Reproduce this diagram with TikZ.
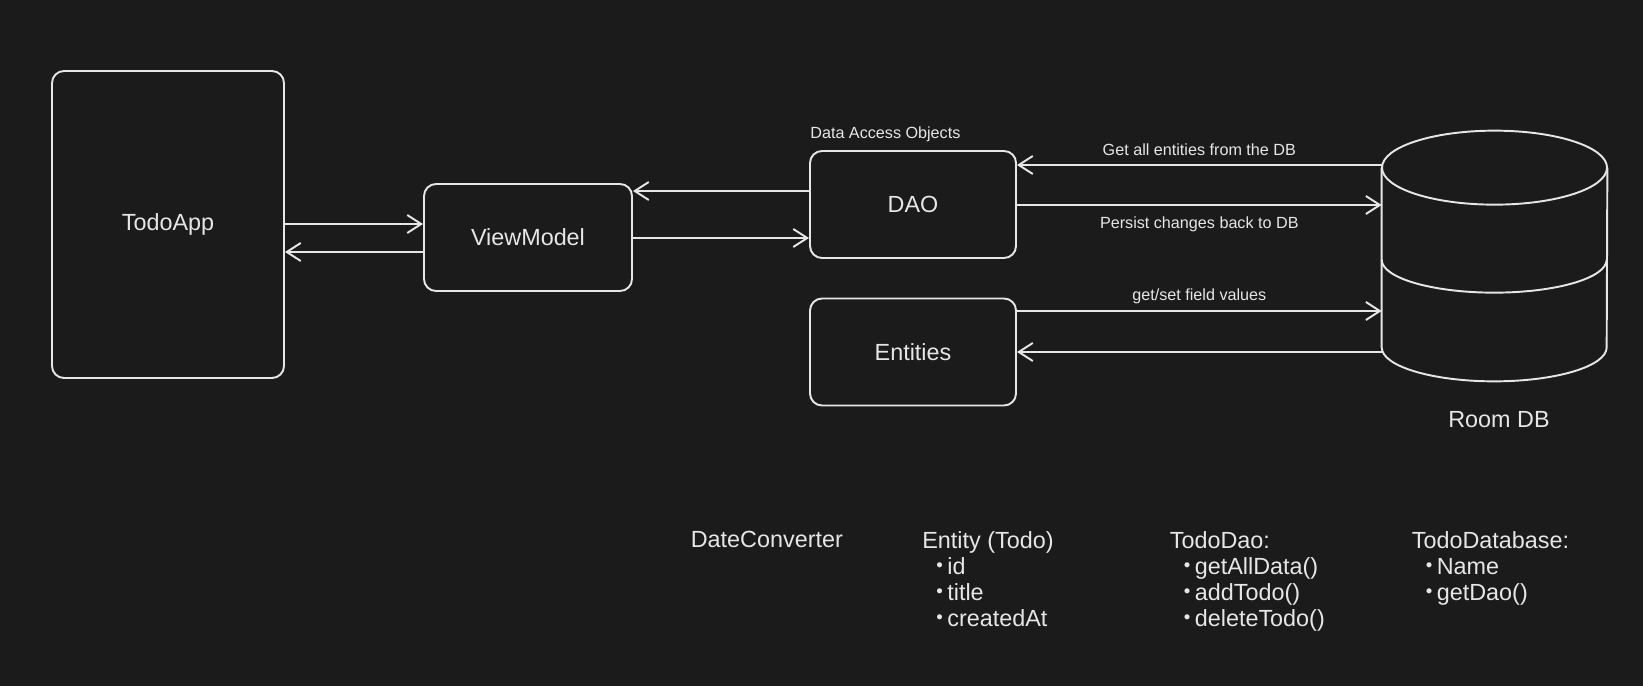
\documentclass[tikz,border=0pt]{standalone}
\usepackage{fontspec}
\setmainfont{Liberation Sans}
\usetikzlibrary{arrows.meta}
\definecolor{canvas}{HTML}{1B1B1B}
\definecolor{ink}{HTML}{E6E6E6}
\newcommand{\notebullet}{\hspace{8pt}\raisebox{0.25ex}{\scalebox{0.8}{\textbullet}}\hspace{2.5pt}}

\begin{document}
\begin{tikzpicture}[
    box/.style={draw=ink, line width=1.1pt, rounded corners=0.24cm, inner sep=0pt, text=ink, font=\fontsize{13.3}{16}\selectfont},
    arr/.style={draw=ink, line width=1.1pt, -{Straight Barb[length=0.28cm,width=0.36cm]}},
    lbl/.style={text=ink, font=\fontsize{9.2}{11}\selectfont},
    note/.style={text=ink, font=\fontsize{13.3}{14.8}\selectfont, align=left, anchor=north west, inner sep=0pt},
    db/.style={draw=ink, line width=1.1pt}
  ]
  \fill[canvas] (0,0) rectangle (32.86,-13.72);
  \useasboundingbox (0,0) rectangle (32.86,-13.72);

  % boxes
  \node[box, minimum width=4.64cm, minimum height=6.14cm] (todoapp) at (3.36,-4.49) {TodoApp};
  \node[box, minimum width=4.16cm, minimum height=2.14cm] (viewmodel) at (10.56,-4.75) {ViewModel};
  \node[box, minimum width=4.12cm, minimum height=2.14cm] (dao) at (18.26,-4.09) {DAO};
  \node[box, minimum width=4.12cm, minimum height=2.14cm] (entities) at (18.26,-7.04) {Entities};
  \node[lbl, anchor=base west, inner sep=0pt] (daocap) at (16.2,-2.78) {Data Access Objects};

  % the database
  \node[minimum width=4.5cm, minimum height=3.58cm, inner sep=0pt] (roomdb) at (29.89,-5.15) {};
  \draw[db] (roomdb.north west) -- (roomdb.south west)
    arc[start angle=180, end angle=360, x radius=2.25cm, y radius=0.68cm] -- (roomdb.north east);
  \draw[db] (roomdb.north) ellipse[x radius=2.25cm, y radius=0.74cm];
  \draw[db] ([yshift=-1.84cm]roomdb.north west) arc[start angle=180, end angle=360, x radius=2.25cm, y radius=0.66cm];
  \node[text=ink, font=\fontsize{13.3}{16}\selectfont] (dbname) at (29.98,-8.4) {Room DB};

  % arrows
  \draw[arr] (todoapp.east |- 0,-4.48) -- (viewmodel.west |- 0,-4.48);
  \draw[arr] (viewmodel.west |- 0,-5.04) -- (todoapp.east |- 0,-5.04);
  \draw[arr] (dao.west |- 0,-3.82) -- (viewmodel.east |- 0,-3.82);
  \draw[arr] (viewmodel.east |- 0,-4.76) -- (dao.west |- 0,-4.76);
  \draw[arr] (roomdb.west |- 0,-3.30) -- node[lbl, above, yshift=0.06cm] (getall) {Get all entities from the DB} (dao.east |- 0,-3.30);
  \draw[arr] (dao.east |- 0,-4.10) -- node[lbl, below, yshift=-0.1cm] (persist) {Persist changes back to DB} (roomdb.west |- 0,-4.10);
  \draw[arr] (entities.east |- 0,-6.22) -- node[lbl, above] (getset) {get/set field values} (roomdb.west |- 0,-6.22);
  \draw[arr] (roomdb.west |- 0,-7.04) -- (entities.east |- 0,-7.04);

  % notes
  \node[note] (dateconv) at (13.81,-10.62) {DateConverter};
  \node[note] (entitynote) at (18.44,-10.62) {Entity (Todo)\\\notebullet id\\\notebullet title\\\notebullet createdAt};
  \node[note] (daonote) at (23.39,-10.62) {TodoDao:\\\notebullet getAllData()\\\notebullet addTodo()\\\notebullet deleteTodo()};
  \node[note] (dbnote) at (28.23,-10.62) {TodoDatabase:\\\notebullet Name\\\notebullet getDao()};
\end{tikzpicture}
\end{document}
